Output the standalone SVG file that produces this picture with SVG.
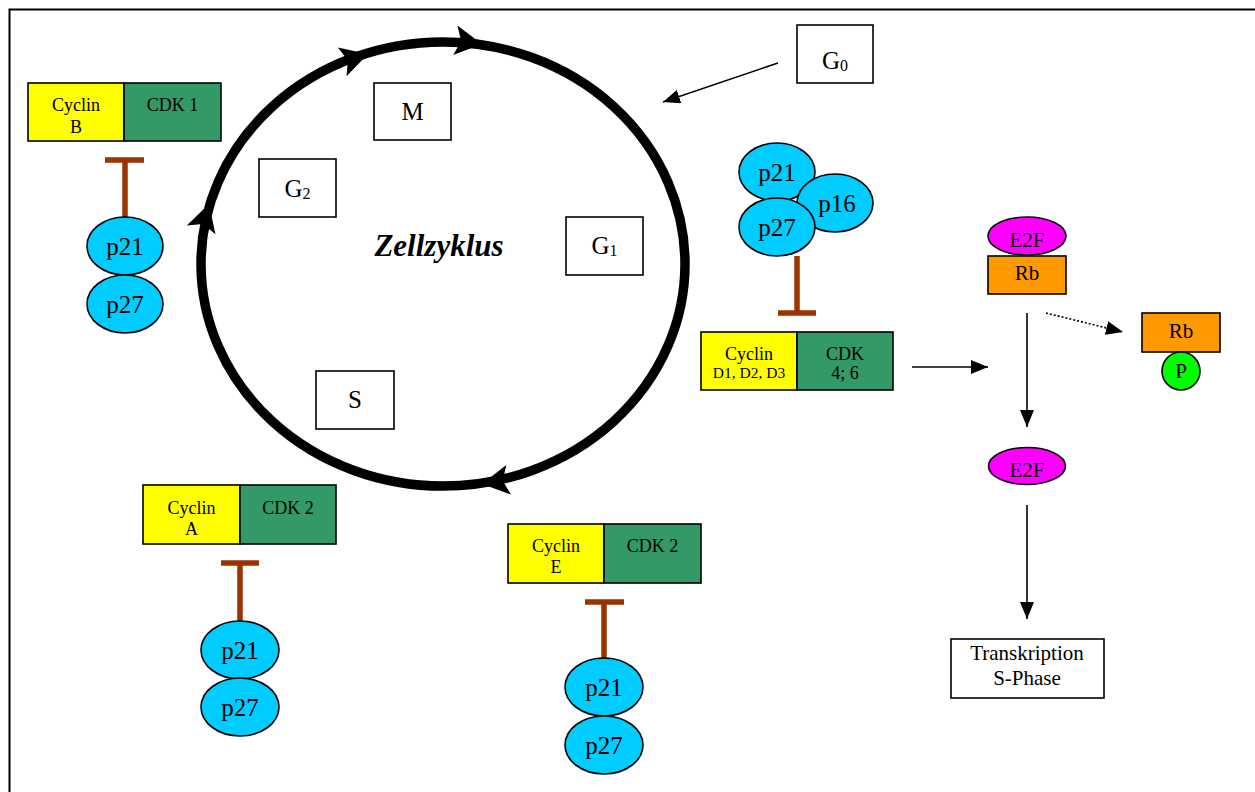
<svg xmlns="http://www.w3.org/2000/svg" width="1255" height="792" viewBox="0 0 1255 792">
<defs>
<marker id="arr" viewBox="0 0 17 14" refX="17" refY="7" markerWidth="17" markerHeight="14" markerUnits="userSpaceOnUse" orient="auto">
<path d="M0,0 L17,7 L0,14 z" fill="#000"/>
</marker>
<polygon id="cyc" points="0,0 -27,-15 -21,0 -27,15" fill="#000"/>
</defs>
<style>
text{font-family:"Liberation Serif","Times New Roman",serif;fill:#000;text-anchor:middle}
.box{fill:#fff;stroke:#000;stroke-width:1.6}
.cy{fill:#FFFF00;stroke:#000;stroke-width:1.6}
.cdk{fill:#339966;stroke:#000;stroke-width:1.6}
.p{fill:#00CCFF;stroke:#000;stroke-width:1.6}
.e2f{fill:#FF00FF;stroke:#000;stroke-width:1.6}
.rb{fill:#FF9900;stroke:#000;stroke-width:1.6}
.ph{fill:#00FF00;stroke:#000;stroke-width:1.6}
.t18{font-size:18px}
.t16{font-size:15.5px}
.t21{font-size:21px}
.t25{font-size:25px}
.sub{font-size:16px}
.inh{stroke:#993300;stroke-width:5.5;fill:none}
.ln{stroke:#000;stroke-width:1.6;fill:none}
</style>
<rect x="9.5" y="9.5" width="1270" height="800" fill="#fff" stroke="#000" stroke-width="2"/>

<g id="connectors">
<ellipse cx="443" cy="264" rx="242" ry="222" fill="none" stroke="#000" stroke-width="9.5"/>
<use href="#cyc" transform="translate(482,44) rotate(8)"/>
<use href="#cyc" transform="translate(368,54) rotate(-17)"/>
<use href="#cyc" transform="translate(209,204) rotate(-73)"/>
<use href="#cyc" transform="translate(482,484) rotate(171)"/>
<line class="ln" x1="778" y1="63" x2="663" y2="102" marker-end="url(#arr)"/>
<line class="ln" x1="912" y1="367" x2="988" y2="367" marker-end="url(#arr)"/>
<line class="ln" x1="1027" y1="313" x2="1027" y2="427" marker-end="url(#arr)"/>
<line class="ln" x1="1027" y1="505" x2="1027" y2="619" marker-end="url(#arr)"/>
<line class="ln" x1="1046" y1="313" x2="1123" y2="332" stroke-dasharray="2,2" marker-end="url(#arr)"/>
<path class="inh" d="M105,160 H144 M125,160 V217"/>
<path class="inh" d="M221,563 H259 M240,563 V621"/>
<path class="inh" d="M585,602 H624 M604,602 V658"/>
<path class="inh" d="M778,313 H816 M797,313 V256"/>
</g>

<g id="zellzyklus"><text x="439" y="256" style="font-size:31px;font-weight:bold;font-style:italic">Zellzyklus</text></g>
<g id="phase-M"><rect class="box" x="374" y="83" width="77" height="57"/><text class="t25" x="412.5" y="120">M</text></g>
<g id="phase-G2"><rect class="box" x="259" y="159" width="77" height="58"/><text class="t25" x="297.5" y="197">G<tspan class="sub" dy="2">2</tspan></text></g>
<g id="phase-G1"><rect class="box" x="566" y="217" width="77" height="58"/><text class="t25" x="604.5" y="254">G<tspan class="sub" dy="2">1</tspan></text></g>
<g id="phase-S"><rect class="box" x="316" y="371" width="78" height="58"/><text class="t25" x="355" y="408">S</text></g>
<g id="phase-G0"><rect class="box" x="797" y="25" width="76" height="58"/><text class="t25" x="835" y="69">G<tspan class="sub" dy="2">0</tspan></text></g>

<g id="cyclinB-cdk1">
<rect class="cy" x="28" y="83" width="96" height="58"/><rect class="cdk" x="124" y="83" width="97" height="58"/>
<text class="t18" x="76" y="111">Cyclin</text><text class="t18" x="76" y="133">B</text>
<text class="t18" x="172.5" y="111">CDK 1</text>
</g>
<g id="inhib-B">
<ellipse class="p" cx="125" cy="246" rx="38" ry="29"/><text class="t25" x="125" y="255">p21</text>
<ellipse class="p" cx="125" cy="304" rx="38" ry="29"/><text class="t25" x="125" y="313">p27</text>
</g>

<g id="cyclinA-cdk2">
<rect class="cy" x="143" y="485" width="97" height="59"/><rect class="cdk" x="240" y="485" width="96" height="59"/>
<text class="t18" x="191.5" y="514">Cyclin</text><text class="t18" x="191.5" y="535">A</text>
<text class="t18" x="288" y="514">CDK 2</text>
</g>
<g id="inhib-A">
<ellipse class="p" cx="240" cy="650" rx="39" ry="29"/><text class="t25" x="240" y="659">p21</text>
<ellipse class="p" cx="240" cy="707" rx="39" ry="29"/><text class="t25" x="240" y="716">p27</text>
</g>

<g id="cyclinE-cdk2">
<rect class="cy" x="508" y="524" width="96" height="59"/><rect class="cdk" x="604" y="524" width="97" height="59"/>
<text class="t18" x="556" y="552">Cyclin</text><text class="t18" x="556" y="573">E</text>
<text class="t18" x="652.5" y="552">CDK 2</text>
</g>
<g id="inhib-E">
<ellipse class="p" cx="604" cy="687" rx="39" ry="29"/><text class="t25" x="604" y="696">p21</text>
<ellipse class="p" cx="604" cy="745" rx="39" ry="29"/><text class="t25" x="604" y="754">p27</text>
</g>

<g id="cyclinD-cdk46">
<rect class="cy" x="701" y="332" width="96" height="58"/><rect class="cdk" x="797" y="332" width="96" height="58"/>
<text class="t18" x="749" y="360">Cyclin</text><text class="t16" x="749" y="378">D1, D2, D3</text>
<text class="t18" x="845" y="360">CDK</text><text class="t18" x="845" y="379">4; 6</text>
</g>
<g id="inhib-D">
<ellipse class="p" cx="777" cy="172" rx="38" ry="29"/>
<ellipse class="p" cx="835" cy="203" rx="38" ry="29"/>
<ellipse class="p" cx="777" cy="227" rx="38" ry="29"/>
<text class="t25" x="777" y="181">p21</text>
<text class="t25" x="837" y="212">p16</text>
<text class="t25" x="777" y="236">p27</text>
</g>

<g id="e2f-rb">
<ellipse class="e2f" cx="1027" cy="236" rx="39" ry="19"/><text class="t21" x="1027" y="247">E2F</text>
<rect class="rb" x="988" y="256" width="78" height="38"/><text class="t21" x="1027" y="280">Rb</text>
</g>
<g id="rb-p">
<rect class="rb" x="1142" y="313" width="78" height="39"/><text class="t21" x="1181" y="338">Rb</text>
<circle class="ph" cx="1181" cy="371" r="19"/><text class="t21" x="1181" y="378">P</text>
</g>
<g id="e2f-free">
<ellipse class="e2f" cx="1027" cy="466" rx="38.5" ry="18.5"/><text class="t21" x="1027" y="477">E2F</text>
</g>
<g id="transkription">
<rect class="box" x="951" y="639" width="153" height="59"/>
<text class="t21" x="1027" y="660">Transkription</text>
<text class="t21" x="1027" y="685">S-Phase</text>
</g>
</svg>
